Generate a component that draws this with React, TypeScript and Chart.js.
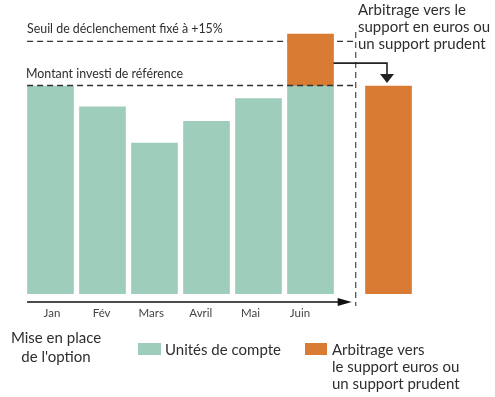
import React, { useEffect, useRef } from "react";
import { Chart, registerables } from "chart.js";

Chart.register(...registerables);

const months = ["Jan", "Fév", "Mars", "Avril", "Mai", "Juin"];
const unitValues = [100, 90, 72.5, 83, 94, 100];
const juinArbitrage = 25;
const arbitrageBar = 100;
const arbitragePos = 6.5;
const referenceLevel = 100;
const thresholdLevel = 121.5;
const arrowLevel = 111;

const GREEN = "rgb(159,205,188)";
const ORANGE = "rgb(217,123,50)";
const TEXT = "#2e2e2e";
const FONT = 'Lato, "Noto Sans", sans-serif';

const overlay = {
  id: "overlay",
  beforeDatasetsDraw(chart: any) {
    const { ctx, scales } = chart;
    const x = scales.x, y = scales.y;
    const xLeft = x.getPixelForValue(-0.45);
    const xSep = x.getPixelForValue(5.85);
    const yThr = y.getPixelForValue(thresholdLevel);
    ctx.save();
    ctx.strokeStyle = "#333";
    ctx.lineWidth = 1.3;
    ctx.setLineDash([6, 4]);
    ctx.beginPath();
    ctx.moveTo(xLeft, yThr);
    ctx.lineTo(xSep, yThr);
    ctx.stroke();
    ctx.restore();
  },
  afterDatasetsDraw(chart: any) {
    const { ctx, scales } = chart;
    const x = scales.x, y = scales.y;
    const xLeft = x.getPixelForValue(-0.45);
    const xSep = x.getPixelForValue(5.85);
    const yRef = y.getPixelForValue(referenceLevel) - 0.5;
    const yThr = y.getPixelForValue(thresholdLevel);
    const y0 = y.getPixelForValue(0);
    ctx.save();
    // reference dashed line
    ctx.strokeStyle = "#333";
    ctx.lineWidth = 1.3;
    ctx.setLineDash([6, 4]);
    ctx.beginPath();
    ctx.moveTo(xLeft, yRef);
    ctx.lineTo(xSep, yRef);
    ctx.stroke();
    // vertical separator
    ctx.strokeStyle = "#555";
    ctx.beginPath();
    ctx.moveTo(xSep + 1, y.getPixelForValue(126));
    ctx.lineTo(xSep + 1, y0 + 12);
    ctx.stroke();
    ctx.setLineDash([]);
    // time axis arrow
    const ay = y0 + 8;
    const ax1 = xSep - 3;
    ctx.strokeStyle = "#111";
    ctx.fillStyle = "#111";
    ctx.lineWidth = 1.6;
    ctx.beginPath();
    ctx.moveTo(xLeft, ay);
    ctx.lineTo(ax1 - 10, ay);
    ctx.stroke();
    ctx.beginPath();
    ctx.moveTo(ax1, ay);
    ctx.lineTo(ax1 - 14, ay - 4);
    ctx.lineTo(ax1 - 14, ay + 4);
    ctx.closePath();
    ctx.fill();
    // arbitrage arrow
    const sx = x.getPixelForValue(5) + 23;
    const sy = y.getPixelForValue(arrowLevel);
    const tx = x.getPixelForValue(arbitragePos) - 1.5;
    const ty = y.getPixelForValue(arbitrageBar) - 3;
    ctx.strokeStyle = "#222";
    ctx.fillStyle = "#222";
    ctx.lineWidth = 1.6;
    ctx.beginPath();
    ctx.moveTo(sx, sy);
    ctx.lineTo(tx, sy);
    ctx.lineTo(tx, ty - 8);
    ctx.stroke();
    ctx.beginPath();
    ctx.moveTo(tx, ty);
    ctx.lineTo(tx - 7, ty - 9);
    ctx.lineTo(tx + 7, ty - 9);
    ctx.closePath();
    ctx.fill();

    // texts
    ctx.fillStyle = TEXT;
    ctx.textBaseline = "alphabetic";
    ctx.textAlign = "left";
    ctx.font = `12.4px ${FONT}`;
    ctx.fillText("Seuil de déclenchement fixé à +15%", 27, yThr - 8);
    ctx.fillText("Montant investi de référence", 26, yRef - 8);

    ctx.font = `15px ${FONT}`;
    ctx.textBaseline = "middle";
    ctx.fillText("Arbitrage vers le", 358, 10);
    ctx.fillText("support en euros ou", 358, 27);
    ctx.fillText("un support prudent", 358, 44);

    // month labels
    ctx.font = `11.5px ${FONT}`;
    ctx.fillStyle = "#444";
    ctx.textAlign = "center";
    months.forEach((m, i) => {
      ctx.fillText(m, 52 + i * 49.6, 313);
    });

    // bottom texts
    ctx.fillStyle = TEXT;
    ctx.font = `15px ${FONT}`;
    ctx.fillText("Mise en place", 56, 338);
    ctx.fillText("de l'option", 56, 357);

    // legend
    ctx.fillStyle = GREEN;
    ctx.fillRect(138, 343, 23, 12);
    ctx.fillStyle = ORANGE;
    ctx.fillRect(305, 343, 22, 12);
    ctx.fillStyle = TEXT;
    ctx.textAlign = "left";
    ctx.fillText("Unités de compte", 165, 350);
    ctx.fillText("Arbitrage vers", 332, 350);
    ctx.fillText("le support euros ou", 332, 367);
    ctx.fillText("un support prudent", 332, 384);
    ctx.restore();
  },
};

export default function App() {
  const ref = useRef<HTMLCanvasElement>(null);
  useEffect(() => {
    if (!ref.current) return;
    const chart = new Chart(ref.current, {
      type: "bar",
      data: {
        datasets: [
          {
            label: "Unités de compte",
            data: unitValues.map((v, i) => ({ x: i, y: v })),
            backgroundColor: GREEN,
            barThickness: 46,
            borderWidth: 0,
          },
          {
            label: "Arbitrage",
            data: [
              { x: 5, y: juinArbitrage },
              { x: arbitragePos, y: arbitrageBar },
            ],
            backgroundColor: ORANGE,
            barThickness: 46,
            borderWidth: 0,
          },
        ],
      },
      options: {
        responsive: false,
        animation: false,
        devicePixelRatio: 1,
        layout: { padding: { left: 24.5, right: 54.5, top: 23.6, bottom: 103 } },
        plugins: { legend: { display: false }, tooltip: { enabled: false } },
        scales: {
          x: { type: "linear", min: -0.5, max: 7.5, stacked: true, offset: false, display: false },
          y: { min: 0, max: 130, stacked: true, display: false },
        },
      },
      plugins: [overlay],
    } as any);
    return () => chart.destroy();
  }, []);
  return (
    <div style={{ position: "absolute", left: 0, top: 0, width: 495, height: 397, background: "#fff" }}>
      <canvas ref={ref} width={495} height={397} />
    </div>
  );
}
